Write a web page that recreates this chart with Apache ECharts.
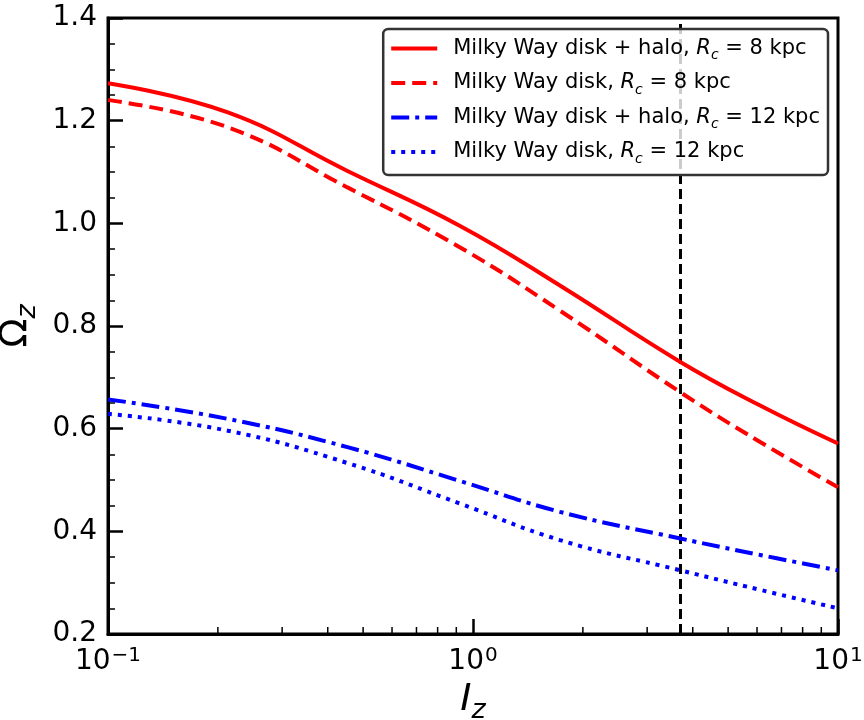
<!DOCTYPE html>
<html>
<head>
<meta charset="utf-8">
<script src="https://cdn.jsdelivr.net/npm/echarts@6/dist/echarts.min.js"></script>
<style>
  html, body { margin: 0; padding: 0; background: #fff; }
  #chart { width: 864px; height: 720px; }
</style>
</head>
<body>
<div id="chart"></div>
<script>
// values (x is log scale)
var xs = [0.1, 0.213, 0.453, 0.922, 1.73, 3.7, 6.12, 10];
var diskHalo8 = [1.273, 1.216, 1.102, 0.995, 0.879, 0.730, 0.645, 0.571];
var disk8 = [1.240, 1.187, 1.070, 0.953, 0.830, 0.671, 0.574, 0.486];
var diskHalo12 = [0.657, 0.619, 0.564, 0.498, 0.438, 0.386, 0.354, 0.324];
var disk12 = [0.629, 0.596, 0.533, 0.454, 0.383, 0.324, 0.286, 0.250];
var vline = 3.7;
var seriesNames = ['disk+halo 8', 'disk 8', 'disk+halo 12', 'disk 12'];
var legendLabels = [
  'Milky Way disk + halo, ',
  'Milky Way disk, ',
  'Milky Way disk + halo, ',
  'Milky Way disk, '
];
var legendRc = ['8', '8', '12', '12'];
var minorX = [0.2, 0.3, 0.4, 0.5, 0.6, 0.7, 0.8, 0.9, 2, 3, 4, 5, 6, 7, 8, 9];

var FONT = 'DejaVu Sans';

function pairs(ys) {
  return xs.map(function (x, i) { return [x, ys[i]]; });
}

var chart = echarts.init(document.getElementById('chart'));

function lineSeries(name, ys, color, type) {
  return {
    name: name,
    type: 'line',
    data: pairs(ys),
    smooth: 0.45,
    showSymbol: false,
    symbol: 'none',
    lineStyle: { color: color, width: 4, type: type },
    itemStyle: { color: color },
    z: 3
  };
}

var series = [
  lineSeries(seriesNames[0], diskHalo8, '#ff0000', 'solid'),
  lineSeries(seriesNames[1], disk8, '#ff0000', [14, 7]),
  lineSeries(seriesNames[2], diskHalo12, '#0000ff', [18, 6, 4, 6]),
  lineSeries(seriesNames[3], disk12, '#0000ff', [4, 6])
];

series[0].markLine = {
  silent: true,
  z: 2,
  symbol: 'none',
  label: { show: false },
  lineStyle: { color: '#000', width: 3, type: [10, 5] },
  data: [{ xAxis: vline }]
};

// minor ticks of the log axis (2..9 per decade)
series.push({
  type: 'custom',
  silent: true,
  clip: false,
  data: minorX.map(function (x) { return [x, 0.2]; }),
  renderItem: function (params, api) {
    var p = api.coord([api.value(0), api.value(1)]);
    return {
      type: 'line',
      shape: { x1: p[0], y1: p[1], x2: p[0], y2: p[1] - 7 },
      style: { stroke: '#000', lineWidth: 1.5 }
    };
  },
  z: 5
});

var option = {
  animation: false,
  backgroundColor: '#fff',
  grid: {
    left: 108, right: 26, top: 18, bottom: 86,
    outerBoundsMode: 'none',
    containLabel: false,
    show: true, borderColor: '#000', borderWidth: 3
  },
  legend: {
    data: seriesNames,
    orient: 'vertical',
    right: 36,
    top: 29,
    z: 10,
    backgroundColor: 'rgba(255,255,255,0.8)',
    borderColor: '#333',
    borderWidth: 2.5,
    borderRadius: 5,
    padding: [9, 8, 9, 6],
    itemWidth: 46,
    itemHeight: 20,
    itemGap: 10,
    itemStyle: { color: 'rgba(0,0,0,0)', borderWidth: 0, opacity: 0 },
    lineStyle: { width: 4 },
    formatter: function (name) {
      var i = seriesNames.indexOf(name);
      return '{g|}{t|' + legendLabels[i] + '}{i|R}{c|c}{t| = ' + legendRc[i] + ' kpc}';
    },
    textStyle: {
      fontFamily: FONT,
      fontSize: 21,
      color: '#000',
      rich: {
        g: { width: 11 },
        t: { fontFamily: FONT, fontSize: 21, color: '#000', lineHeight: 22 },
        i: { fontFamily: FONT, fontSize: 21, fontStyle: 'italic', color: '#000', lineHeight: 22 },
        c: { fontFamily: FONT, fontSize: 14, fontStyle: 'italic', color: '#000', lineHeight: 22, verticalAlign: 'bottom', padding: [0, 0, -3, 0] }
      }
    }
  },
  xAxis: {
    type: 'log',
    logBase: 10,
    min: 0.1,
    max: 10,
    name: '{i|I}{z|z}',
    nameLocation: 'middle',
    nameGap: 42,
    nameTextStyle: {
      rich: {
        i: { fontFamily: FONT, fontSize: 38, fontStyle: 'italic', color: '#000' },
        z: { fontFamily: FONT, fontSize: 27, fontStyle: 'italic', color: '#000', verticalAlign: 'bottom', padding: [0, 0, -6, 0] }
      }
    },
    axisLine: { lineStyle: { color: '#000', width: 3 } },
    axisTick: { inside: true, length: 15, lineStyle: { color: '#000', width: 2.5 } },
    splitLine: { show: false },
    axisLabel: {
      margin: 12,
      showMinLabel: true,
      showMaxLabel: true,
      formatter: function (v) {
        var e = Math.round(Math.log10(v));
        return '{b|10}{s|' + (e < 0 ? '\u2212' + (-e) : e) + '}';
      },
      rich: {
        b: { fontFamily: FONT, fontSize: 28, color: '#000', lineHeight: 30, verticalAlign: 'bottom' },
        s: { fontFamily: FONT, fontSize: 20, color: '#000', lineHeight: 20, verticalAlign: 'top', padding: [0, 0, 0, 1] }
      }
    }
  },
  yAxis: {
    type: 'value',
    min: 0.2,
    max: 1.4,
    interval: 0.2,
    name: '{o|\u03A9}{z|z}',
    nameLocation: 'middle',
    nameRotate: 90,
    nameGap: 48,
    nameTextStyle: {
      rich: {
        o: { fontFamily: FONT, fontSize: 38, color: '#000' },
        z: { fontFamily: FONT, fontSize: 27, fontStyle: 'italic', color: '#000', verticalAlign: 'bottom', padding: [0, 0, -6, 0] }
      }
    },
    axisLine: { show: true, lineStyle: { color: '#000', width: 3 } },
    axisTick: { inside: true, length: 15, lineStyle: { color: '#000', width: 2.5 } },
    minorTick: { show: true, splitNumber: 4, length: 7, lineStyle: { color: '#000', width: 1.5 } },
    splitLine: { show: false },
    minorSplitLine: { show: false },
    axisLabel: {
      margin: 11,
      fontFamily: FONT,
      fontSize: 28,
      color: '#000',
      showMinLabel: true,
      showMaxLabel: true,
      formatter: function (v) { return v.toFixed(1); }
    }
  },
  series: series
};

chart.setOption(option);
</script>
</body>
</html>
